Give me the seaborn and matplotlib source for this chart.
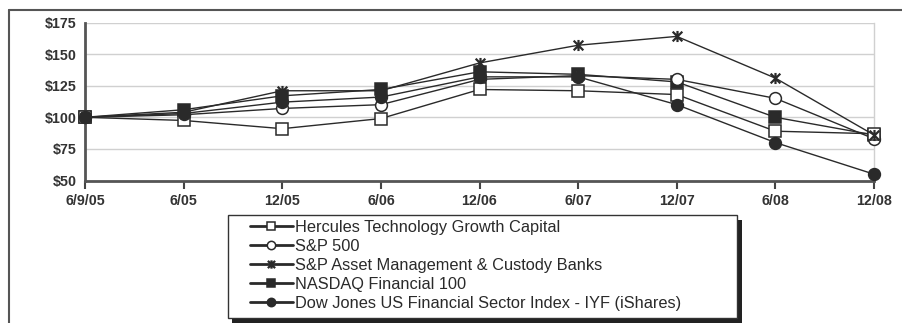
import numpy as np
import pandas as pd
import matplotlib
matplotlib.use("Agg")
import matplotlib.pyplot as plt
import seaborn as sns
from matplotlib.lines import Line2D
from matplotlib.patches import Rectangle
from matplotlib.path import Path

# ---- data ----
periods = ["6/9/05", "6/05", "12/05", "6/06", "12/06", "6/07", "12/07", "6/08", "12/08"]
hercules = [100, 97.5, 91, 99, 122, 121, 118, 89, 87]
sp500 = [100, 102, 107, 110, 130, 133, 130, 115, 83]
sp_asset_custody = [100, 104, 121, 121, 143, 157, 164, 131, 86]
nasdaq_fin100 = [100, 106, 117, 122, 136, 134, 128, 100, 86]
dj_iyf = [100, 103, 112, 116, 132, 132, 110, 80, 55]
y_ticks = [50, 75, 100, 125, 150, 175]
series_names = [
    "Hercules Technology Growth Capital",
    "S&P 500",
    "S&P Asset Management & Custody Banks",
    "NASDAQ Financial 100",
    "Dow Jones US Financial Sector Index - IYF (iShares)",
]
series_values = [hercules, sp500, sp_asset_custody, nasdaq_fin100, dj_iyf]

sns.set_theme(style="white")
plt.rcParams['font.family'] = ['Liberation Sans', 'DejaVu Sans']

W, H = 902, 323
fig = plt.figure(figsize=(W / 100, H / 100), dpi=100)


def fx(px):
    return px / W


def fy(py):
    return 1 - py / H


ax = fig.add_axes([fx(85), fy(180.5), fx(874) - fx(85), fy(22.5) - fy(180.5)])

ink = '#2a2a2a'
# asterisk marker: an X with a vertical stroke
star_path = Path(
    [(-1, -1), (1, 1), (-1, 1), (1, -1), (0, -1.15), (0, 1.15)],
    [Path.MOVETO, Path.LINETO, Path.MOVETO, Path.LINETO, Path.MOVETO, Path.LINETO],
)
styles = [
    dict(marker='s', markerfacecolor='white', markeredgecolor=ink, markersize=8, zorder=4),
    dict(marker='o', markerfacecolor='white', markeredgecolor=ink, markersize=8.5, zorder=3),
    dict(marker=star_path, markerfacecolor=ink, markeredgecolor=ink, markersize=8, zorder=5),
    dict(marker='s', markerfacecolor=ink, markeredgecolor=ink, markersize=8, zorder=2),
    dict(marker='o', markerfacecolor=ink, markeredgecolor=ink, markersize=8.5, zorder=6),
]
edge_widths = [1.1, 1.1, 1.6, 1.1, 1.1]

for name, vals, st, mew in zip(series_names, series_values, styles, edge_widths):
    sub = pd.DataFrame({'pos': np.arange(len(periods)), 'value': vals})
    sns.lineplot(data=sub, x='pos', y='value', ax=ax, color=ink, linewidth=1,
                 markeredgewidth=mew, clip_on=False, legend=False, **st)

ax.set_xlim(0, len(periods) - 1)
ax.set_ylim(y_ticks[0], y_ticks[-1])
ax.set_xticks(np.arange(len(periods)))
ax.set_xticklabels(periods)
ax.set_yticks(y_ticks)
ax.set_yticklabels([f"${v}" for v in y_ticks])
ax.set_xlabel("")
ax.set_ylabel("")
ax.grid(axis='y', color='#d0d0d0', linewidth=1)
ax.grid(axis='x', visible=False)
ax.set_axisbelow(True)

ax.spines['top'].set_visible(False)
ax.spines['right'].set_color('#d0d0d0')
ax.spines['right'].set_linewidth(1)
for s in ('left', 'bottom'):
    ax.spines[s].set_color('#555555')
    ax.spines[s].set_linewidth(2)

ax.tick_params(axis='x', bottom=True, length=6, width=1.5, color='#444444',
               direction='out', pad=4, labelsize=10.3, labelcolor='#333333')
ax.tick_params(axis='y', left=False, length=0, pad=6, labelsize=10.3, labelcolor='#333333')
for lab in ax.get_xticklabels() + ax.get_yticklabels():
    lab.set_fontweight('bold')

# outer frame (top and left edges)
fig.add_artist(Line2D([fx(9), 1], [fy(10), fy(10)], color='#555555', lw=1.5))
fig.add_artist(Line2D([fx(9), fx(9)], [fy(10), 0], color='#555555', lw=1.5))

# legend box with shadow
fig.patches.append(Rectangle((fx(232), fy(323)), fx(742) - fx(232), fy(220) - fy(323),
                             transform=fig.transFigure, facecolor='#222222',
                             edgecolor='none', zorder=1))
fig.patches.append(Rectangle((fx(228), fy(318)), fx(737) - fx(228), fy(215) - fy(318),
                             transform=fig.transFigure, facecolor='white',
                             edgecolor='#333333', linewidth=1, zorder=2))

handles = []
for st, mew in zip(styles, edge_widths):
    handles.append(Line2D([], [], color=ink, linewidth=2, marker=st['marker'],
                          markerfacecolor=st['markerfacecolor'],
                          markeredgecolor=st['markeredgecolor'],
                          markersize=6, markeredgewidth=mew))
fig.legend(handles, series_names, loc='upper left', bbox_to_anchor=(fx(250), fy(220)),
           frameon=False, fontsize=11.8, handlelength=2.6, handletextpad=0.15,
           labelspacing=0.24, borderpad=0, borderaxespad=0, labelcolor='#2a2a2a')

fig.savefig('out.png', dpi=100)
